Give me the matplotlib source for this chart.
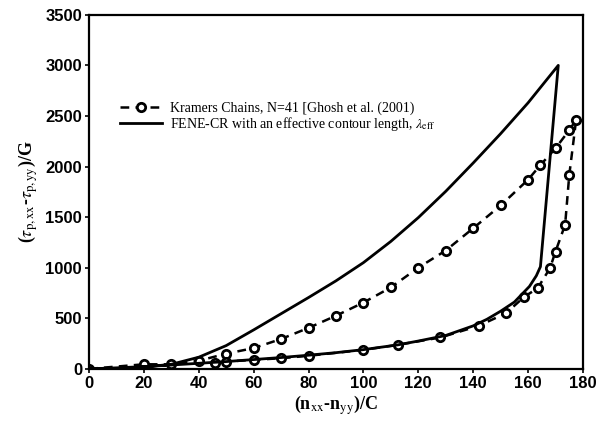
import matplotlib
matplotlib.use('Agg')
from matplotlib import pyplot as plt

plt.rcParams['mathtext.fontset'] = 'stix'

# Kramers chains, N=41 (dashed with open circles): loading then relaxation branch
kx = [0, 20, 30, 40, 50, 60, 70, 80, 90, 100, 110, 120, 130, 140, 150, 160, 164.5,
      170, 175, 177.5, 175, 173.5, 170, 168, 163.5, 158.5, 152, 142, 128, 112.5,
      100, 80, 70, 60, 50, 46]
ky = [0, 45, 45, 80, 150, 205, 295, 405, 525, 655, 805, 1000, 1170, 1390, 1615,
      1870, 2015, 2180, 2360, 2460, 1915, 1425, 1160, 996, 798, 710, 551, 425, 310,
      237, 188, 129, 105, 89, 72, 55]

# FENE-CR with effective contour length (solid)
fx = [0, 10, 20, 30, 40, 50, 60, 70, 80, 90, 100, 110, 120, 130, 140, 150, 160, 171,
      164.5, 163, 160.5, 155, 150, 145, 140, 130, 120, 112.5, 100, 90, 80, 70, 60,
      50, 40, 30, 20, 10, 0]
fy = [0, 4, 18, 45, 115, 230, 385, 545, 705, 870, 1050, 1260, 1495, 1755, 2035, 2325,
      2630, 3000, 1010, 920, 815, 660, 570, 490, 425, 330, 275, 237, 190, 160, 135,
      112, 92, 72, 55, 38, 22, 10, 0]

xticks = list(range(0, 181, 20))
yticks = list(range(0, 3501, 500))

fig = plt.figure(figsize=(6.01, 4.23), dpi=100)
ax = fig.add_axes([0.148, 0.128, 0.822, 0.837])

ax.plot(kx, ky, color='black', lw=1.8, ls=(0, (3.5, 2.5)), marker='o', ms=6,
        mfc='white', mec='black', mew=2,
        label='Kramers Chains, N=41 [Ghosh et al. (2001)')
ax.plot(fx, fy, color='black', lw=2,
        label=r'FENE-CR with an effective contour length, $\lambda_{\rm eff}$')

ax.set_xlim(0, 180)
ax.set_ylim(0, 3500)
ax.set_xticks(xticks)
ax.set_yticks(yticks)
for lab in ax.get_xticklabels() + ax.get_yticklabels():
    lab.set_fontfamily('Liberation Sans')
    lab.set_fontweight('bold')
    lab.set_fontsize(12)
ax.tick_params(direction='out', length=3, width=1.2, pad=2)
for s in ax.spines.values():
    s.set_linewidth(1.6)

ax.set_xlabel(r'(n$_{\rm xx}$-n$_{\rm yy}$)/C', fontfamily='Liberation Serif',
              fontsize=13, fontweight='bold', labelpad=2)
ax.set_ylabel(r'($\tau_{\rm p,xx}$-$\tau_{\rm p,yy}$)/G', fontfamily='Liberation Serif',
              fontsize=13, fontweight='bold', labelpad=4)

leg = ax.legend(loc='upper left', bbox_to_anchor=(0.049, 0.775), frameon=False,
                prop={'family': 'Liberation Serif', 'size': 10}, borderpad=0,
                handlelength=3.0, handletextpad=0.6, labelspacing=0.0)

fig.savefig('out.png', dpi=100)
